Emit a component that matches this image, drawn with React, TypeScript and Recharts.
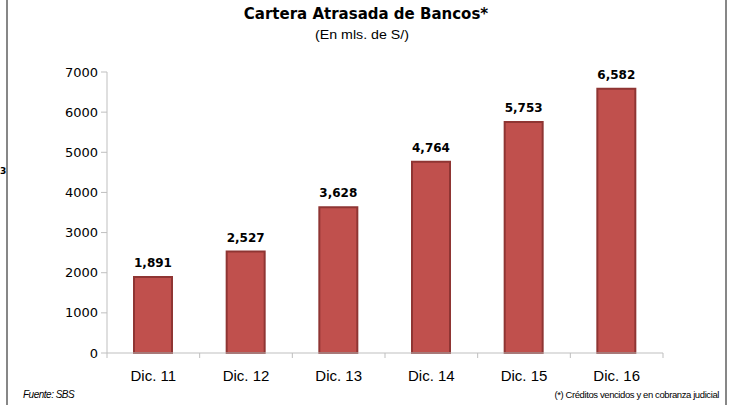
import React from 'react';
import { BarChart, Bar, XAxis, YAxis, LabelList } from 'recharts';

// valores en millones de soles, diciembre de cada año
const periodos = ['Dic. 11', 'Dic. 12', 'Dic. 13', 'Dic. 14', 'Dic. 15', 'Dic. 16'];
const carteraAtrasada = [1891, 2527, 3628, 4764, 5753, 6582];
const yTicks = [0, 1000, 2000, 3000, 4000, 5000, 6000, 7000];

const data = periodos.map((periodo, i) => ({ periodo, monto: carteraAtrasada[i] }));

const AXIS_COLOR = '#bfbfbf';

const PeriodoTick = (props: any) => {
  const { x, y, payload, index } = props;
  const half = payload.offset || 46;
  return (
    <g>
      <line x1={x - half} y1={y} x2={x - half} y2={y + 5} stroke={AXIS_COLOR} />
      {index === periodos.length - 1 && (
        <line x1={x + half} y1={y} x2={x + half} y2={y + 5} stroke={AXIS_COLOR} />
      )}
      <text
        x={x}
        y={y + 28}
        textAnchor="middle"
        fill="#000"
        fontSize={15}
        fontFamily="'Liberation Sans', Arial, sans-serif"
      >
        {payload.value}
      </text>
    </g>
  );
};

const formatMiles = (v: any) => Number(v).toLocaleString('en-US');

export default function App() {
  return (
    <div style={{ position: 'absolute', left: 0, top: 0, width: 734, height: 405, background: '#fff' }}>
      <div style={{ position: 'absolute', left: 6, top: 0, width: 2, height: 405, background: '#878787' }} />
      <div style={{ position: 'absolute', left: 725, top: 0, width: 2, height: 405, background: '#878787' }} />

      <BarChart
        width={734}
        height={405}
        data={data}
        margin={{ top: 72, right: 71, bottom: 22, left: 0 }}
        style={{ position: 'absolute', left: 0, top: 0 }}
      >
        <text
          x={366}
          y={19}
          textAnchor="middle"
          fontSize={15}
          fontWeight="bold"
          fontFamily="'DejaVu Sans', Verdana, sans-serif"
          fill="#000"
        >
          Cartera Atrasada de Bancos*
        </text>
        <text
          x={362}
          y={39}
          textAnchor="middle"
          fontSize={12}
          textLength={94}
          lengthAdjust="spacingAndGlyphs"
          fontFamily="'Liberation Sans', Arial, sans-serif"
          fill="#000"
        >
          (En mls. de S/)
        </text>
        <text x={0} y={174} fontSize={9} fontWeight="bold" fontFamily="'DejaVu Sans', sans-serif" fill="#000">
          3
        </text>

        <XAxis
          dataKey="periodo"
          height={30}
          axisLine={{ stroke: AXIS_COLOR }}
          tickLine={false}
          tickSize={0}
          tickMargin={0}
          tick={<PeriodoTick />}
          interval={0}
        />
        <YAxis
          width={107}
          domain={[0, 7000]}
          ticks={yTicks}
          interval={0}
          axisLine={{ stroke: AXIS_COLOR }}
          tickLine={{ stroke: AXIS_COLOR }}
          tickSize={6}
          tickMargin={3}
          tick={{ fill: '#000', fontSize: 13, fontFamily: "'DejaVu Sans', Verdana, sans-serif" }}
        />
        <Bar
          dataKey="monto"
          fill="#c0504d"
          stroke="#8f3533"
          strokeWidth={2}
          barSize={38}
          isAnimationActive={false}
        >
          <LabelList
            dataKey="monto"
            position="top"
            offset={10}
            formatter={formatMiles}
            fill="#000"
            fontSize={12}
            fontWeight="bold"
            fontFamily="'DejaVu Sans', Verdana, sans-serif"
          />
        </Bar>

        <text
          x={23}
          y={398}
          fontSize={10}
          fontStyle="italic"
          letterSpacing={-0.5}
          fontFamily="'Liberation Sans', Arial, sans-serif"
          fill="#000"
        >
          Fuente: SBS
        </text>
        <text
          x={719}
          y={398}
          textAnchor="end"
          fontSize={9.5}
          letterSpacing={-0.4}
          fontFamily="'Liberation Sans', Arial, sans-serif"
          fill="#000"
        >
          (*) Créditos vencidos y en cobranza judicial
        </text>
      </BarChart>
    </div>
  );
}
